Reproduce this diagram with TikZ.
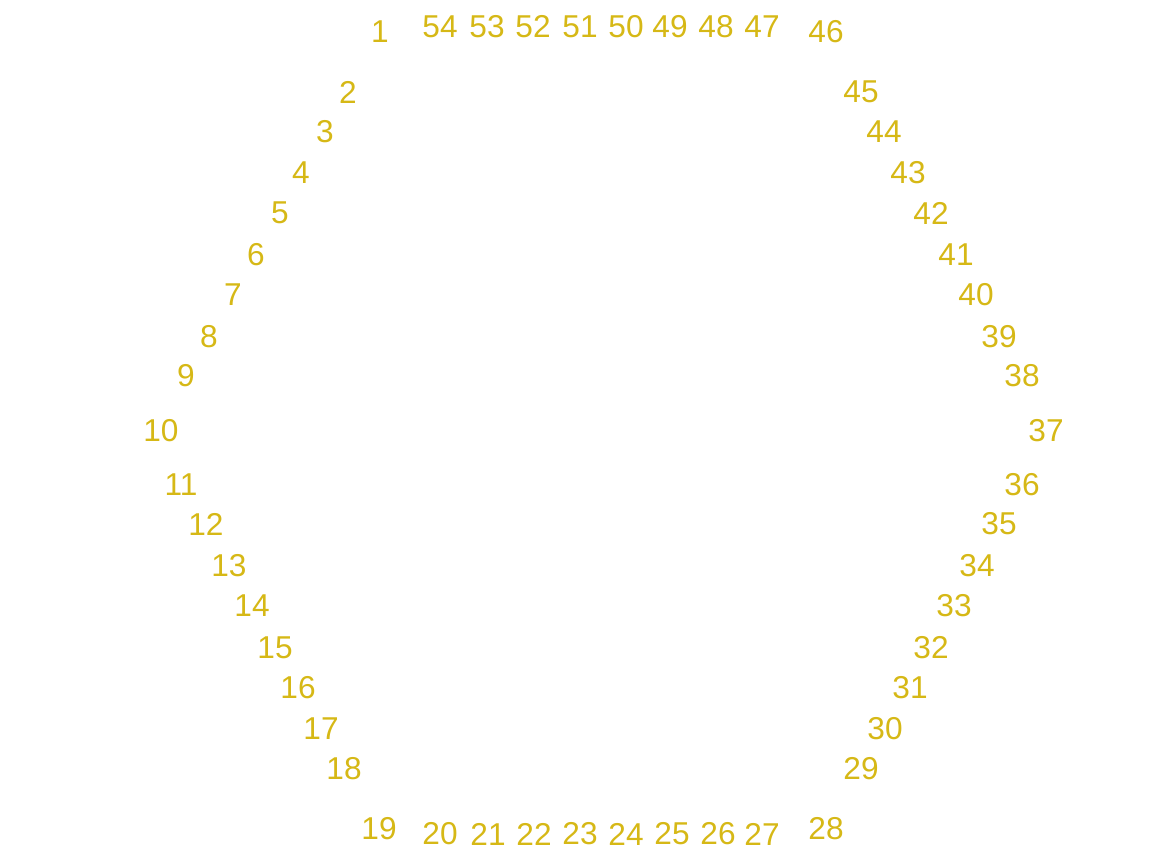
\documentclass[tikz,border=0pt]{standalone}
\usepackage{fontspec}
\setmainfont{Liberation Sans}

\definecolor{gold}{RGB}{214,184,22}

\tikzset{
    num/.style = {text = gold, font = \fontsize{18}{18}\selectfont, inner sep = 0pt}
}

\begin{document}
\begin{tikzpicture}[x = 0.02cm, y = -0.02cm]
    \useasboundingbox (0, 0) rectangle (1158, 854);

    % labels round the hexagon
    \foreach \n/\x/\y in {1/380/32, 2/348/92, 3/325/132, 4/301/173, 5/280/213,
        6/256/255, 7/233/295, 8/209/337, 9/186/376, 10/161/431,
        11/181/485, 12/206/524, 13/229/566, 14/252/606, 15/275/648,
        16/298/688, 17/321/729, 18/344/769, 19/379/829, 20/440/834,
        21/488/834, 22/534/834, 23/580/834, 24/626/834, 25/672/834,
        26/718/834, 27/762/834, 28/826/829, 29/861/769, 30/885/729,
        31/910/688, 32/931/648, 33/954/606, 34/977/566, 35/999/524,
        36/1022/485, 37/1046/431, 38/1022/376, 39/999/337, 40/976/295,
        41/956/255, 42/931/213, 43/908/173, 44/884/132, 45/861/92,
        46/826/32, 47/762/27, 48/716/27, 49/670/27, 50/626/27,
        51/580/27, 52/533/27, 53/487/27, 54/440/27}
        \node[num] (n\n) at (\x, \y) {\n};
\end{tikzpicture}
\end{document}
